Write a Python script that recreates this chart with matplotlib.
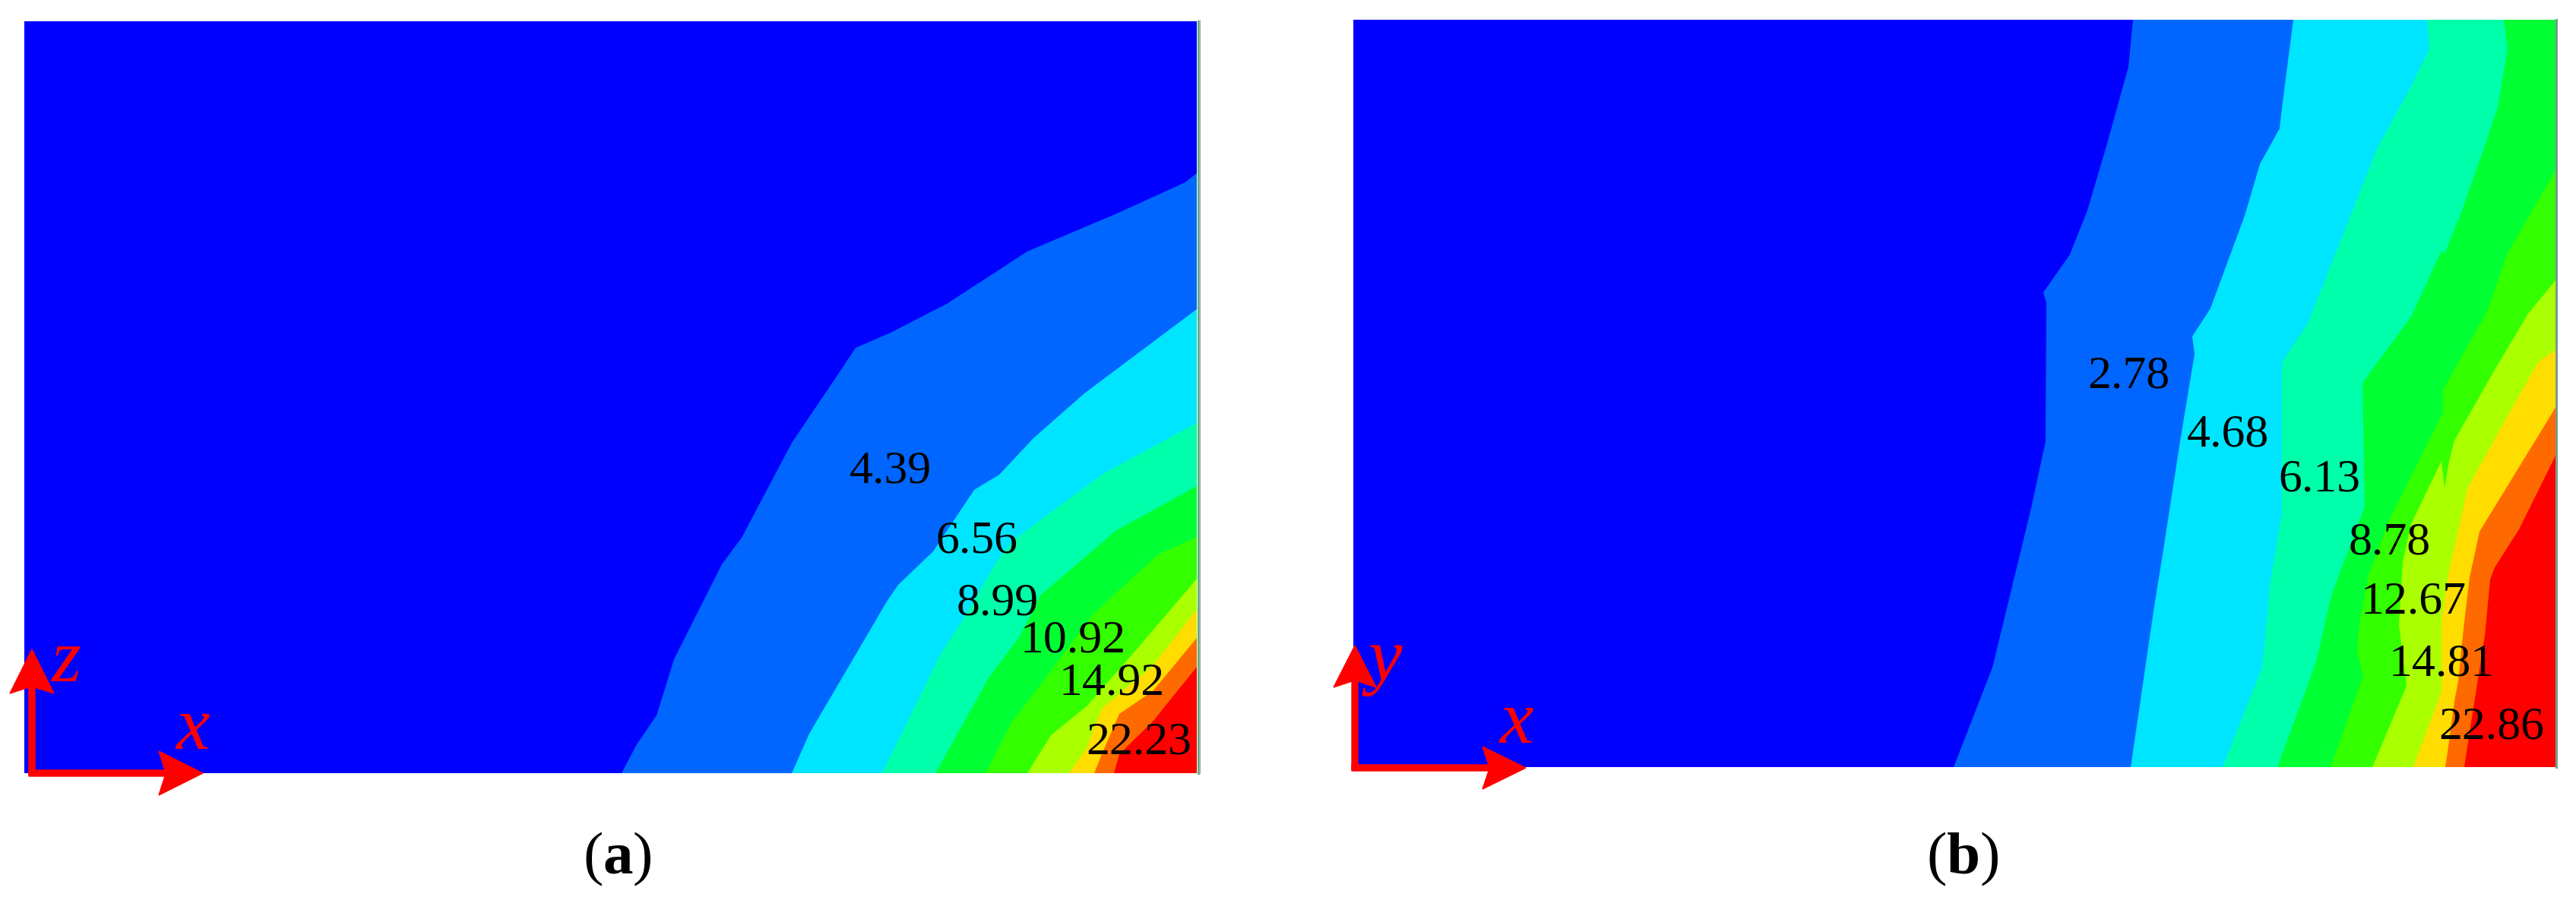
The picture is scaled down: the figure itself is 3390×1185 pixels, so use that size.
"""
Contour maps of panels (a) and (b), band edges read off the picture
x, y of the data are picture pixels of the original figure
"""
import matplotlib
matplotlib.use("Agg")
import matplotlib.pyplot as plt
from matplotlib.patches import Polygon

plt.rcParams['font.family'] = ['Liberation Serif', 'DejaVu Serif']
plt.rcParams['mathtext.fontset'] = 'custom'
plt.rcParams['mathtext.rm'] = 'Liberation Serif'
plt.rcParams['mathtext.it'] = 'Liberation Serif:italic'
plt.rcParams['mathtext.bf'] = 'Liberation Serif:bold'

fig_w, fig_h = 3391, 1185

band_colors = ['#0000ff', '#0066ff', '#00e5ff', '#00ffaa', '#00ff33',
               '#33ff00', '#aaff00', '#ffdd00', '#ff6a00', '#ff0000']

# panel a, each edge runs from the bottom side to the right side
a_box = (32, 1575, 28, 1018)
a_edges = [
    [(818, 1018), (838, 980), (864, 942), (887, 868), (950, 743), (976, 708),
     (1042, 583), (1096, 503), (1126, 458), (1172, 438), (1246, 400),
     (1352, 331), (1470, 281), (1560, 240), (1575, 228)],
    [(1042, 1018), (1065, 966), (1167, 792), (1182, 770), (1228, 726),
     (1282, 645), (1315, 625), (1361, 576), (1427, 518), (1575, 407)],
    [(1161, 1018), (1239, 859), (1264, 821), (1315, 734), (1335, 710),
     (1453, 623), (1575, 557)],
    [(1231, 1018), (1302, 891), (1341, 839), (1369, 784), (1468, 699),
     (1575, 640)],
    [(1297, 1018), (1330, 953), (1381, 886), (1437, 810), (1524, 730),
     (1575, 707)],
    [(1352, 1018), (1383, 968), (1430, 930), (1500, 850), (1575, 762)],
    [(1407, 1018), (1430, 985), (1450, 933), (1517, 877), (1575, 802)],
    [(1440, 1018), (1450, 993), (1473, 940), (1517, 910), (1575, 840)],
    [(1466, 1018), (1473, 993), (1517, 950), (1575, 878)],
]
a_labels = ['4.39', '6.56', '8.99', '10.92', '14.92', '22.23']
a_label_xy = [(1172, 621), (1285, 713), (1313, 795),
              (1412, 844), (1463, 900), (1499, 978)]

# panel b, the first edges leave through the top side
b_box = (1781, 3364, 26, 1010)
b_edges = [
    [(2571, 1010), (2622, 879), (2673, 669), (2692, 581), (2693, 399),
     (2689, 385), (2724, 335), (2747, 277), (2773, 189), (2801, 88),
     (2807, 26)],
    [(2804, 1010), (2835, 798), (2846, 730), (2869, 581), (2888, 466),
     (2885, 443), (2909, 406), (2954, 284), (2974, 216), (3000, 169),
     (3003, 142), (3018, 26)],
    [(2925, 1010), (2977, 879), (2988, 764), (3003, 676), (3003, 477),
     (3037, 426), (3096, 277), (3128, 196), (3176, 108), (3197, 64),
     (3194, 26)],
    [(2997, 1010), (3048, 872), (3068, 784), (3112, 667), (3109, 504),
     (3173, 417), (3213, 330), (3217, 334), (3240, 277), (3267, 200),
     (3287, 142), (3300, 64), (3295, 26)],
    [(3067, 1010), (3110, 890), (3102, 857), (3105, 817), (3117, 757),
     (3143, 687), (3215, 543), (3215, 513), (3273, 410), (3300, 333),
     (3364, 223)],
    [(3122, 1010), (3167, 903), (3157, 823), (3162, 740), (3173, 690),
     (3213, 607), (3217, 643), (3223, 607), (3230, 580), (3283, 487),
     (3327, 413), (3364, 368)],
    [(3176, 1010), (3213, 910), (3213, 817), (3223, 750), (3237, 690),
     (3247, 643), (3293, 560), (3340, 477), (3364, 460)],
    [(3218, 1010), (3222, 983), (3230, 923), (3235, 897), (3242, 827),
     (3250, 760), (3263, 700), (3364, 535)],
    [(3243, 1010), (3247, 983), (3258, 913), (3270, 837), (3277, 763),
     (3283, 747), (3315, 697), (3364, 598)],
]
b_labels = ['2.78', '4.68', '6.13', '8.78', '12.67', '14.81', '22.86']
b_label_xy = [(2801, 496), (2932, 573), (3052, 632), (3145, 715),
              (3176, 793), (3213, 875), (3279, 958)]


def add_arrow(ax, start, tip, base, half_w, stem):
    # red arrow with a notched head, horizontal or vertical
    horizontal = abs(tip[0] - start[0]) > abs(tip[1] - start[1])
    dx, dy = (1, 0) if horizontal else (0, -1)
    nx, ny = -dy, dx
    pts = [(start[0] + nx * stem / 2, start[1] + ny * stem / 2),
           (base[0] + nx * stem / 2, base[1] + ny * stem / 2),
           (base[0] - dx * 8 + nx * half_w, base[1] - dy * 8 + ny * half_w),
           tip,
           (base[0] - dx * 8 - nx * half_w, base[1] - dy * 8 - ny * half_w),
           (base[0] - nx * stem / 2, base[1] - ny * stem / 2),
           (start[0] - nx * stem / 2, start[1] - ny * stem / 2)]
    ax.add_patch(Polygon(pts, closed=True, fc='#ff0000', ec='#ff0000',
                         lw=1, clip_on=False, zorder=5))


def draw_panel(box, edges, labels, label_xy):
    left, right, top, bottom = box
    ax = fig.add_axes([left / fig_w, 1 - bottom / fig_h,
                       (right - left) / fig_w, (bottom - top) / fig_h])
    ax.set_xlim(left, right)
    ax.set_ylim(bottom, top)
    ax.axis('off')
    ax.add_patch(Polygon([(left, top), (right, top), (right, bottom), (left, bottom)],
                         closed=True, fc=band_colors[0], ec='none'))
    for edge, color in zip(edges, band_colors[1:]):
        pts = edge + [(right, edge[-1][1]), (right, bottom)]
        ax.add_patch(Polygon(pts, closed=True, fc=color, ec='none'))
    for text, (x, y) in zip(labels, label_xy):
        ax.text(x, y, text, fontsize=44.5, color='black', ha='center', va='center')
    return ax


fig = plt.figure(figsize=(fig_w / 100, fig_h / 100), dpi=100, facecolor='white')

ax_a = draw_panel(a_box, a_edges, a_labels, a_label_xy)
ax_b = draw_panel(b_box, b_edges, b_labels, b_label_xy)

# thin mesh edge left at the right side of the pictures
ax_a.plot([1576.5, 1576.5], [28, 1018], color='#44c060', lw=2.2, clip_on=False)
ax_a.plot([1579, 1579], [28, 1018], color='#b8a0cc', lw=1.6, clip_on=False)
ax_b.plot([3364, 3364], [26, 1010], color='#7a9a8c', lw=2.2, clip_on=False)

add_arrow(ax_a, (42, 1021), (42, 855), (42, 905), 29, 8)
add_arrow(ax_a, (38, 1018), (267, 1018), (217, 1018), 29, 8)
ax_a.text(87, 873, 'z', fontsize=72, style='italic', color='#ff0000', ha='center', va='center', zorder=6)
ax_a.text(253, 962, 'x', fontsize=72, style='italic', color='#ff0000', ha='center', va='center', zorder=6)

add_arrow(ax_b, (1783, 1014), (1783, 850), (1783, 897), 28, 8)
add_arrow(ax_b, (1779, 1011), (2008, 1011), (1959, 1011), 28, 8)
ax_b.text(1823, 872, 'y', fontsize=72, style='italic', color='#ff0000', ha='center', va='center', zorder=6)
ax_b.text(1995, 954, 'x', fontsize=72, style='italic', color='#ff0000', ha='center', va='center', zorder=6)

ax_a.text(812, 1131, r'($\mathbf{a}$)', fontsize=57, color='black', ha='center', va='center')
ax_b.text(2583, 1131, r'($\mathbf{b}$)', fontsize=57, color='black', ha='center', va='center')

fig.savefig('out.png', dpi=100)
